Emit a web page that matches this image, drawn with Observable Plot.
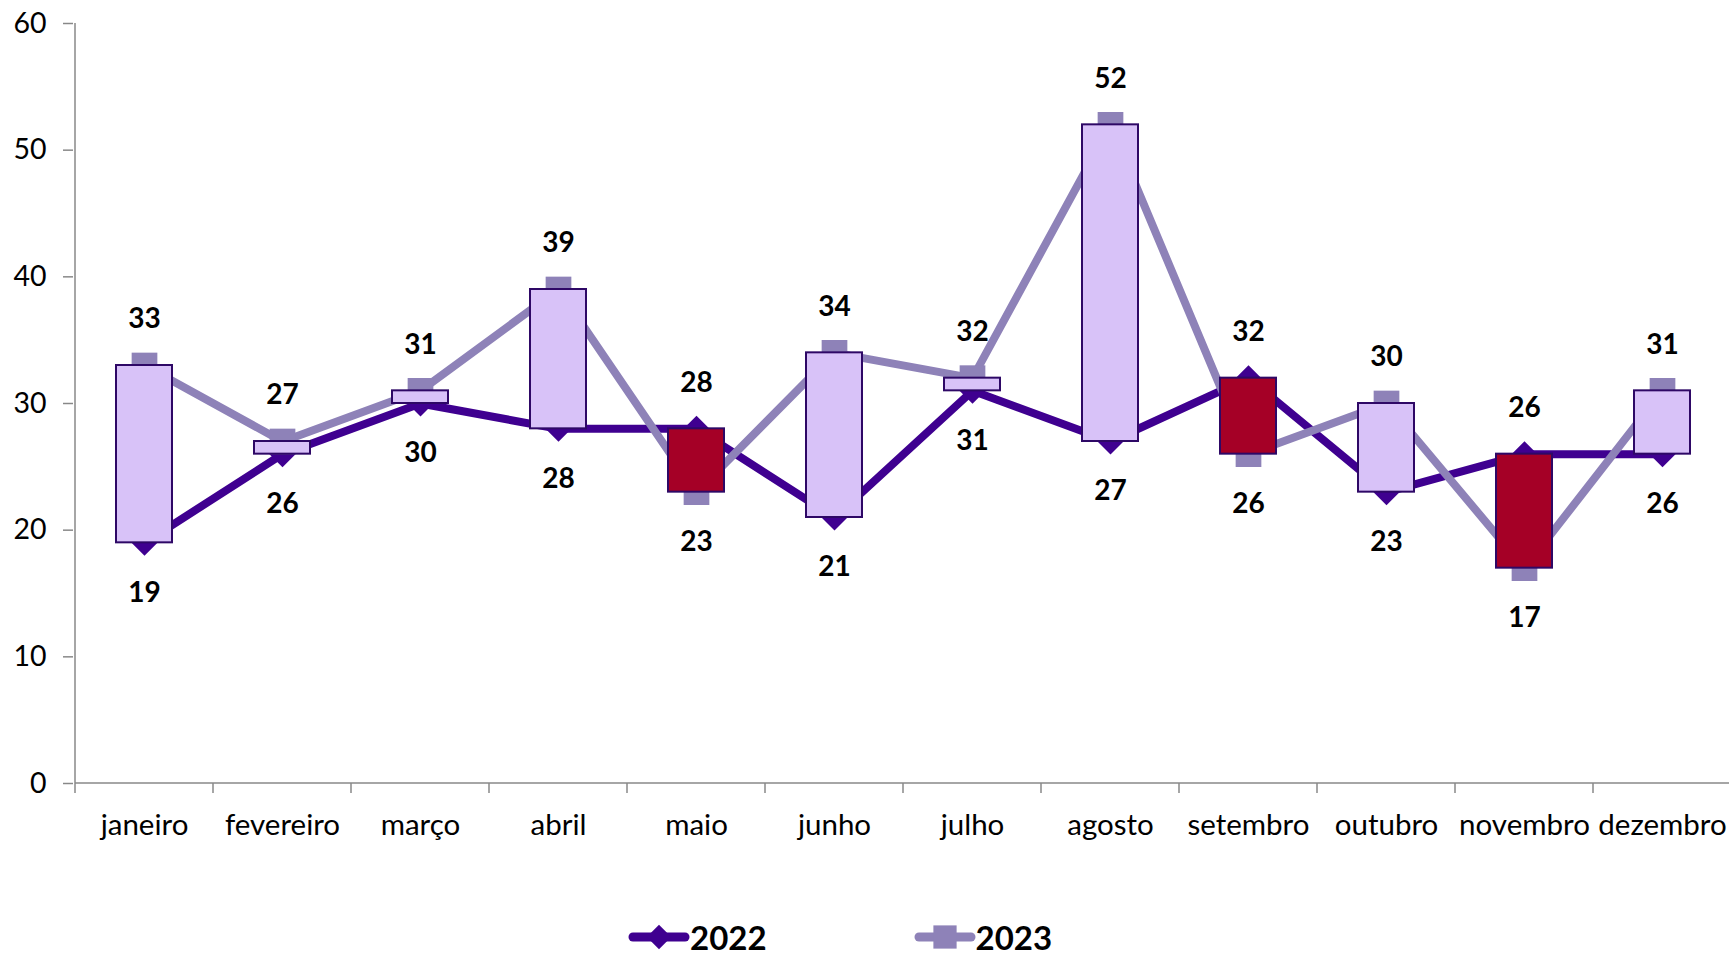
<!DOCTYPE html>
<html><head><meta charset="utf-8">
<script src="https://cdn.jsdelivr.net/npm/d3@7"></script>
<script src="https://cdn.jsdelivr.net/npm/@observablehq/plot@0.6"></script>
<style>
html,body{margin:0;padding:0;background:#fff;}
body{width:1729px;height:958px;position:relative;overflow:hidden;font-family:Lato,"Open Sans",sans-serif;}
#legend{position:absolute;left:628px;top:915px;display:flex;align-items:center;}
.item{display:flex;align-items:center;}
.item span{font-weight:700;font-size:33px;color:#000;line-height:1;}
</style></head><body>
<div id="chart"></div>
<div id="legend"></div>
<script>
const months = ["janeiro","fevereiro","março","abril","maio","junho","julho","agosto","setembro","outubro","novembro","dezembro"];
const values2022 = [19,26,30,28,28,21,31,27,32,23,26,26];
const values2023 = [33,27,31,39,23,34,32,52,26,30,17,31];
const seriesNames = ["2022","2023"];
const yTicks = [0,10,20,30,40,50,60];

const C22 = "#3F0090", C23 = "#8E82B8", UP = "#D8C2F8", DOWN = "#A50026", EDGE = "#2E0866", AXIS = "#888888";

const rows = months.map((m,i)=>({month:m, a:values2022[i], b:values2023[i]}));
const pts = [];
rows.forEach(r=>{
  pts.push({month:r.month, v:r.a, s:seriesNames[0], top:r.a>=r.b});
  pts.push({month:r.month, v:r.b, s:seriesNames[1], top:r.b>r.a});
});

function axisLines(index, scales, values, dims){
  const g = d3.create("svg:g").attr("stroke", AXIS).attr("stroke-width", 1.5).attr("fill","none");
  const X = scales.x, Y = scales.y;
  const bw = X(months[1]) - X(months[0]);
  const x0 = X(months[0]);
  const xEnd = X(months[months.length-1]) + bw;
  g.append("line").attr("x1",x0).attr("x2",x0).attr("y1",Y(0)).attr("y2",Y(60));
  g.append("line").attr("x1",x0).attr("x2",xEnd).attr("y1",Y(0)).attr("y2",Y(0));
  months.forEach(m=>{
    const x = X(m);
    g.append("line").attr("x1",x).attr("x2",x).attr("y1",Y(0)).attr("y2",Y(0)+10);
  });
  return g.node();
}

const chart = Plot.plot({
  width:1729, height:870,
  marginLeft:73, marginRight:0, marginTop:23, marginBottom:87,
  style:{fontFamily:"Lato, 'Open Sans', sans-serif", color:"#000", background:"#fff", overflow:"visible"},
  x:{type:"band", domain:months, range:[73.3,1733], padding:0},
  y:{domain:[0,60]},
  marks:[
    Plot.axisY({ticks:yTicks, tickSize:10, tickPadding:17, fontSize:28.5, stroke:AXIS, strokeWidth:1.5, label:null}),
    Plot.axisX({tickSize:0, tickPadding:31, fontSize:29.5, label:null}),
    axisLines,
    Plot.lineY(rows, {x:"month", y:"a", stroke:C22, strokeWidth:8, strokeLinejoin:"round", strokeLinecap:"round"}),
    Plot.lineY(rows, {x:"month", y:"b", stroke:C23, strokeWidth:8, strokeLinejoin:"round", strokeLinecap:"round"}),
    Plot.dot(rows, {x:"month", y:"a", symbol:"diamond2", r:11.7, fill:C22, stroke:"none"}),
    Plot.dot(rows, {x:"month", y:"b", symbol:"square", r:14.5, fill:C23, stroke:"none"}),
    Plot.barY(rows, {x:"month", y1:"a", y2:"b", fill:d=>d.b>d.a?UP:DOWN, stroke:EDGE, strokeWidth:2, insetLeft:41, insetRight:41}),
    Plot.text(pts.filter(d=>d.top), {x:"month", y:"v", text:d=>String(d.v), dy:-46, fontSize:28, fontWeight:700, fill:"#000"}),
    Plot.text(pts.filter(d=>!d.top), {x:"month", y:"v", text:d=>String(d.v), dy:50, fontSize:28, fontWeight:700, fill:"#000"})
  ]
});
document.getElementById("chart").appendChild(chart);

// legend
const leg = d3.select("#legend");
const legendStyles = [
  {name:seriesNames[0], color:C22, symbol:d3.symbolDiamond2, size:380},
  {name:seriesNames[1], color:C23, symbol:d3.symbolSquare, size:540}
];
legendStyles.forEach((s,i)=>{
  const it = leg.append("div").attr("class","item").style("margin-left", i? "147px":"0");
  const svg = it.append("svg").attr("width",62).attr("height",44);
  svg.append("line").attr("x1",5).attr("x2",57).attr("y1",22).attr("y2",22)
    .attr("stroke",s.color).attr("stroke-width",9).attr("stroke-linecap","round");
  svg.append("path").attr("transform","translate(31,22)").attr("d", d3.symbol(s.symbol, s.size)()).attr("fill", s.color);
  it.append("span").text(s.name);
});
</script>
</body></html>
